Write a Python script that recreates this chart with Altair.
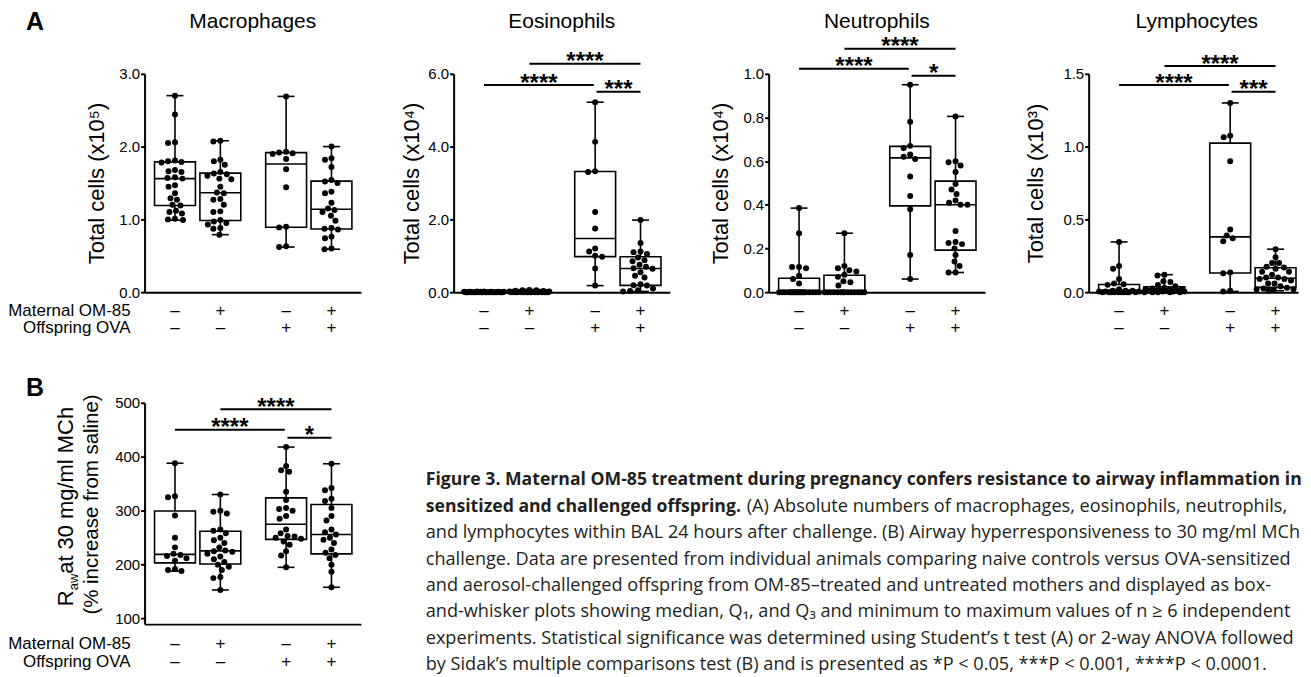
import altair as alt
import numpy as np
import pandas as pd

FONT = "Liberation Sans"
CAP_FONT = "Open Sans"

GROUP_POS = [1.0, 2.0, 3.45, 4.45]
MATERNAL = ["–", "+", "–", "+"]
OFFSPRING = ["–", "–", "+", "+"]

# ---- Panel A: Macrophages (x10^5)
mac_1 = [2.70, 2.44, 2.06, 2.05, 1.81, 1.80, 1.79, 1.78, 1.68, 1.66, 1.65, 1.58, 1.57, 1.56,
         1.47, 1.45, 1.36, 1.29, 1.27, 1.20, 1.19, 1.12, 1.10, 1.08, 1.01, 1.00, 0.99]
mac_2 = [2.08, 2.07, 1.82, 1.80, 1.75, 1.65, 1.63, 1.62, 1.60, 1.56, 1.55, 1.45, 1.37, 1.36,
         1.28, 1.27, 1.20, 1.11, 1.10, 0.99, 0.97, 0.95, 0.93, 0.88, 0.87, 0.79]
mac_3 = [2.69, 1.93, 1.92, 1.91, 1.90, 1.83, 1.69, 1.44, 0.90, 0.89, 0.63, 0.62]
mac_4 = [2.00, 1.84, 1.82, 1.72, 1.54, 1.52, 1.50, 1.38, 1.36, 1.23, 1.15, 1.13, 1.10, 1.05,
         0.98, 0.88, 0.87, 0.86, 0.76, 0.74, 0.60, 0.59]

# ---- Eosinophils (x10^4)
eos_1 = [0.02, 0.02, 0.01, 0.01, 0.01, 0.01, 0.01, 0.01, 0.0, 0.0, 0.0, 0.0, 0.0, 0.0,
         0.0, 0.0, 0.0, 0.0, 0.0, 0.0, 0.0, 0.0, 0.0, 0.0, 0.0, 0.0]
eos_2 = [0.06, 0.05, 0.05, 0.04, 0.03, 0.02, 0.02, 0.02, 0.01, 0.01, 0.01, 0.01, 0.01,
         0.0, 0.0, 0.0, 0.0, 0.0, 0.0, 0.0, 0.0, 0.0, 0.0, 0.0, 0.0, 0.0]
eos_3 = [5.22, 4.13, 3.32, 3.30, 2.20, 1.75, 1.20, 1.12, 1.00, 0.97, 0.65, 0.18]
eos_4 = [0.02, 0.03, 0.05, 0.10, 0.18, 0.19, 0.22, 0.40, 0.45, 0.55, 0.64, 0.66, 0.70, 0.75,
         0.85, 0.88, 0.95, 1.05, 1.10, 1.12, 1.35, 1.98]

# ---- Neutrophils (x10^4)
neu_1 = [0.0] * 18 + [0.04, 0.06, 0.075, 0.11, 0.115, 0.115, 0.27, 0.385]
neu_2 = [0.0] * 14 + [0.03, 0.045, 0.05, 0.07, 0.08, 0.095, 0.10, 0.11, 0.12, 0.27]
neu_3 = [0.95, 0.78, 0.67, 0.66, 0.63, 0.62, 0.61, 0.53, 0.44, 0.38, 0.17, 0.06]
neu_4 = [0.09, 0.09, 0.12, 0.14, 0.17, 0.20, 0.22, 0.225, 0.23, 0.28, 0.40, 0.40, 0.41, 0.42,
         0.45, 0.47, 0.495, 0.55, 0.58, 0.595, 0.60, 0.805]

# ---- Lymphocytes (x10^3)
lym_1 = [0.0] * 10 + [0.005] * 4 + [0.01] * 3 + [0.02, 0.05, 0.055, 0.06, 0.09, 0.16, 0.18, 0.345]
lym_2 = [0.0] * 5 + [0.005] * 3 + [0.01] * 4 + [0.015, 0.02, 0.02, 0.02, 0.025, 0.03, 0.04,
                                                 0.05, 0.07, 0.075, 0.115, 0.12]
lym_3 = [1.30, 1.075, 1.065, 0.90, 0.43, 0.39, 0.37, 0.35, 0.135, 0.13, 0.01, 0.005]
lym_4 = [0.01, 0.015, 0.02, 0.02, 0.025, 0.03, 0.04, 0.06, 0.06, 0.08, 0.09, 0.09, 0.10, 0.10,
         0.12, 0.14, 0.14, 0.16, 0.17, 0.175, 0.20, 0.20, 0.24, 0.295]

# ---- Panel B: Raw at 30 mg/ml MCh (% increase from saline)
raw_1 = [188, 190, 192, 207, 212, 216, 218, 220, 232, 250, 291, 325, 327, 388]
raw_2 = [153, 175, 177, 190, 196, 200, 205, 210, 215, 220, 224, 225, 226, 232, 240, 245,
         250, 258, 263, 265, 295, 298, 300, 330]
raw_3 = [195, 217, 225, 237, 243, 248, 250, 252, 253, 258, 265, 285, 290, 300, 303, 305,
         320, 335, 372, 375, 383, 418]
raw_4 = [158, 187, 200, 212, 218, 222, 228, 240, 246, 250, 256, 260, 265, 282, 290, 305,
         318, 322, 338, 342, 387]

# significance brackets: (from group, to group, level in data units, label)
BRACKET_FROM = [0, 1, 2]
BRACKET_TO = [2, 3, 3]
eos_levels, eos_stars = [5.69, 6.28, 5.51], ["****", "****", "***"]
neu_levels, neu_stars = [1.023, 1.115, 0.991], ["****", "****", "*"]
lym_levels, lym_stars = [1.423, 1.553, 1.377], ["****", "****", "***"]
raw_levels, raw_stars = [450, 488, 435], ["****", "****", "*"]

# ---------------- layout constants
PPX = 45.5          # pixels per group-position unit
X0 = 0.3297         # left end of the x axis (group-position units)
BOX_W = 41
CAP_W = 17
LW = 1.6
ONE = pd.DataFrame({"k": [0]})


def swarm(vals, ppu, d=6.6, cap=20.0):
    vals = np.asarray(vals, float)
    order = np.argsort(-vals, kind="stable")
    cands = np.arange(-cap, cap + 0.001, 0.5)
    cands = cands[np.lexsort((cands, np.abs(cands)))]
    px, py = [], []
    offs = np.zeros(len(vals))
    for i in order:
        y = vals[i] * ppu
        if px:
            ax = np.array(px)
            ay = np.array(py)
            dist = np.sqrt((cands[:, None] - ax[None, :]) ** 2 + (y - ay[None, :]) ** 2).min(axis=1)
            ok = np.where(dist >= d)[0]
            c = cands[ok[0]] if len(ok) else cands[int(np.argmax(dist))]
        else:
            c = 0.0
        offs[i] = c
        px.append(c)
        py.append(y)
    return offs


def label(text, x, y, size, align="left", baseline="alphabetic", weight="normal", angle=0,
          font=FONT):
    return alt.Chart(ONE).mark_text(font=font, fontSize=size, fontWeight=weight, align=align,
                                    baseline=baseline, angle=angle, color="black",
                                    text=text).encode(x=alt.value(x), y=alt.value(y))


def panel(groups, ydom, yticks, yfmt, H, W=217, ytitle=None, title=None, levels=None, stars=None,
          row_labels=False, letter=None, letter_y=-46, title_pad=10, row_dy=(19, 36)):
    xdom = [X0, X0 + W / PPX]
    ppy = H / (ydom[1] - ydom[0])
    pts, stats = [], []
    for gi, vals in enumerate(groups):
        offs = swarm(vals, ppy)
        for v, o in zip(vals, offs):
            pts.append(dict(x=GROUP_POS[gi] + o / PPX, v=v))
        q1, med, q3 = np.percentile(vals, [25, 50, 75], method="weibull")
        p = GROUP_POS[gi]
        stats.append(dict(pos=p, lo=min(vals), hi=max(vals), q1=q1, med=med, q3=q3,
                          bl=p - BOX_W / 2 / PPX, br=p + BOX_W / 2 / PPX,
                          cl=p - CAP_W / 2 / PPX, cr=p + CAP_W / 2 / PPX,
                          mat=MATERNAL[gi], off=OFFSPRING[gi]))
    pts = pd.DataFrame(pts)
    stats = pd.DataFrame(stats)

    xs = alt.Scale(domain=xdom, nice=False, zero=False)
    ys = alt.Scale(domain=ydom, nice=False, zero=False)
    xax = alt.Axis(title=None, labels=False, ticks=False, grid=False, domainWidth=2,
                   domainColor="black")
    yax = alt.Axis(values=yticks, format=yfmt, title=ytitle, grid=False, tickSize=4,
                   tickWidth=2, tickColor="black", domainWidth=2, domainColor="black",
                   labelFontSize=15, labelFont=FONT, labelColor="black", labelPadding=1,
                   titleFontSize=22, titleFont=FONT, titleFontWeight="normal",
                   titleColor="black", titlePadding=title_pad)

    def X(f):
        return alt.X(f, type="quantitative", scale=xs, axis=xax)

    def Y(f):
        return alt.Y(f, type="quantitative", scale=ys, axis=yax)

    base = alt.Chart(stats)
    layers = [
        base.mark_rule(color="black", strokeWidth=LW).encode(x=X("pos"), y=Y("lo"), y2="hi"),
        base.mark_rule(color="black", strokeWidth=LW).encode(x=X("cl"), x2="cr", y=Y("lo")),
        base.mark_rule(color="black", strokeWidth=LW).encode(x=X("cl"), x2="cr", y=Y("hi")),
        base.mark_rect(fill="white", stroke="black", strokeWidth=LW).encode(
            x=X("bl"), x2="br", y=Y("q1"), y2="q3"),
        base.mark_rule(color="black", strokeWidth=LW).encode(x=X("bl"), x2="br", y=Y("med")),
        alt.Chart(pts).mark_circle(color="black", opacity=1, size=36).encode(x=X("x"), y=Y("v")),
        base.mark_text(font=FONT, fontSize=17, baseline="middle", color="black").encode(
            x=X("pos"), y=alt.value(H + row_dy[0]), text="mat:N"),
        base.mark_text(font=FONT, fontSize=17, baseline="middle", color="black").encode(
            x=X("pos"), y=alt.value(H + row_dy[1]), text="off:N"),
    ]
    if levels is not None:
        br = pd.DataFrame(dict(
            x1=[GROUP_POS[a] + (0.03 if a == 2 else 0) for a in BRACKET_FROM],
            x2=[GROUP_POS[b] - (0.03 if a == 0 else 0) for a, b in zip(BRACKET_FROM, BRACKET_TO)],
            yb=levels, lab=stars))
        br["xm"] = (br["x1"] + br["x2"]) / 2
        layers.append(alt.Chart(br).mark_rule(color="black", strokeWidth=2).encode(
            x=X("x1"), x2="x2", y=Y("yb")))
        layers.append(alt.Chart(br).mark_text(font=FONT, fontSize=24, fontWeight="bold",
                                              baseline="alphabetic", dy=5.5, color="black").encode(
            x=X("xm"), y=Y("yb"), text="lab:N"))
    if title is not None:
        layers.append(label(title, 108.5, -45.5, 21, align="center"))
    if row_labels:
        layers.append(label("Maternal OM-85", -14, H + row_dy[0], 17, align="right",
                            baseline="middle"))
        layers.append(label("Offspring OVA", -14, H + row_dy[1], 17, align="right",
                            baseline="middle"))
    if letter is not None:
        layers.append(label(letter, -119, letter_y, 25, weight="bold"))
    return alt.layer(*layers).properties(width=W, height=H)


HA = 219
p_mac = panel([mac_1, mac_2, mac_3, mac_4], [0, 3], [0, 1, 2, 3], ".1f", HA,
              ytitle="Total cells (x10⁵)", title="Macrophages", row_labels=True, letter="A",
              letter_y=-44)
p_eos = panel([eos_1, eos_2, eos_3, eos_4], [0, 6], [0, 2, 4, 6], ".1f", HA,
              ytitle="Total cells (x10⁴)", title="Eosinophils", levels=eos_levels, stars=eos_stars,
              title_pad=4)
p_neu = panel([neu_1, neu_2, neu_3, neu_4], [0, 1], [0, 0.2, 0.4, 0.6, 0.8, 1.0], ".1f", HA,
              ytitle="Total cells (x10⁴)", title="Neutrophils", levels=neu_levels, stars=neu_stars,
              title_pad=10)
p_lym = panel([lym_1, lym_2, lym_3, lym_4], [0, 1.5], [0, 0.5, 1.0, 1.5], ".1f", HA, W=210,
              ytitle="Total cells (x10³)", title="Lymphocytes", levels=lym_levels, stars=lym_stars,
              title_pad=15)

HB = 222
p_raw = panel([raw_1, raw_2, raw_3, raw_4], [89.7, 500], [100, 200, 300, 400, 500], "d", HB,
              ytitle=None, levels=raw_levels, stars=raw_stars, row_labels=True, letter="B",
              letter_y=-7, row_dy=(20, 38))

# Panel B y title (two lines, rotated, with subscript)
b_title = alt.layer(
    label("R", -72, 204, 22, angle=270),
    label("aw", -67, 188, 13, angle=270),
    label(" at 30 mg/ml MCh", -72, 171.5, 22, angle=270),
    label("(% increase from saline)", -47, 102, 20.5, align="center", angle=270),
)
p_raw = alt.layer(p_raw, b_title)

# ---------------- caption
cap_bold = pd.DataFrame({
    "x": [0, 0],
    "y": [82.7, 109.2],
    "t": ["Figure 3. Maternal OM-85 treatment during pregnancy confers resistance to airway inflammation in",
          "sensitized and challenged offspring."],
})
cap_reg = pd.DataFrame({
    "x": [322, 0, 0, 0, 0, 0, 0],
    "y": [109.2, 135.7, 162.2, 188.7, 215.2, 241.7, 268.2],
    "t": ["(A) Absolute numbers of macrophages, eosinophils, neutrophils,",
          "and lymphocytes within BAL 24 hours after challenge. (B) Airway hyperresponsiveness to 30 mg/ml MCh",
          "challenge. Data are presented from individual animals comparing naive controls versus OVA-sensitized",
          "and aerosol-challenged offspring from OM-85–treated and untreated mothers and displayed as box-",
          "and-whisker plots showing median, Q₁, and Q₃ and minimum to maximum values of n ≥ 6 independent",
          "experiments. Statistical significance was determined using Student’s t test (A) or 2-way ANOVA followed",
          "by Sidak’s multiple comparisons test (B) and is presented as *P < 0.05, ***P < 0.001, ****P < 0.0001."],
})
caption = alt.layer(
    alt.Chart(cap_bold).mark_text(font=CAP_FONT, fontSize=17.7, fontWeight="bold", align="left",
                                  baseline="alphabetic", color="#231f20").encode(
        x=alt.X("x:Q", scale=None, axis=None), y=alt.Y("y:Q", scale=None, axis=None), text="t:N"),
    alt.Chart(cap_reg).mark_text(font=CAP_FONT, fontSize=18.2, align="left",
                                 baseline="alphabetic", color="#231f20").encode(
        x=alt.X("x:Q", scale=None, axis=None), y=alt.Y("y:Q", scale=None, axis=None), text="t:N"),
).properties(width=860, height=HB)

row1 = alt.hconcat(p_mac, p_eos, p_neu, p_lym, spacing=40)
row2 = alt.hconcat(p_raw, caption, spacing=65)

chart = alt.vconcat(row1, row2, spacing=40).properties(
    padding={"left": 0, "top": 1, "right": 0, "bottom": 0}
).configure_view(stroke=None)

chart.save("out.html", embed_options={"renderer": "svg", "actions": False})
